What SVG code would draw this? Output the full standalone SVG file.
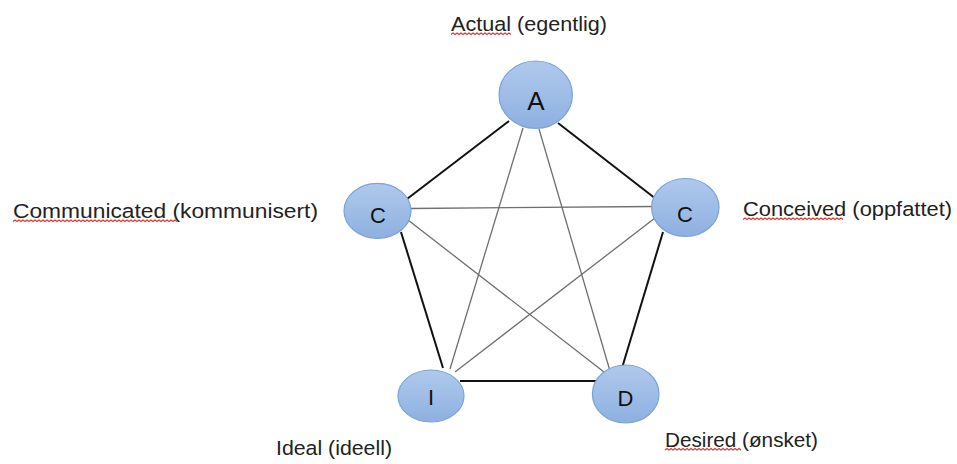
<svg xmlns="http://www.w3.org/2000/svg" width="957" height="464" viewBox="0 0 957 464">
<defs>
<linearGradient id="nodeFill" x1="0" y1="0" x2="0" y2="1">
<stop offset="0" stop-color="#afc9ec"/>
<stop offset="1" stop-color="#8eb0e0"/>
</linearGradient>
<style>
.node ellipse{fill:url(#nodeFill);stroke:#7ba3d8;stroke-width:1.2}
.node text{font-family:"Liberation Sans",Arial,sans-serif;font-size:22px;fill:#111;text-anchor:middle}
.edge-main{stroke:#111;stroke-width:2;fill:none}
.edge-diag{stroke:#6f6f6f;stroke-width:1.3;fill:none}
.label{font-family:"Liberation Sans",Arial,sans-serif;font-size:20.5px;fill:#222}
.squiggle{fill:none;stroke:#e23a3a;stroke-width:1.2}
</style>
</defs>
<rect width="957" height="464" fill="#ffffff"/>
<g id="connectors">
<line class="edge-main" x1="509" y1="121" x2="407" y2="199"/>
<line class="edge-main" x1="558" y1="123" x2="656" y2="199"/>
<line class="edge-main" x1="401" y1="232" x2="443" y2="368"/>
<line class="edge-main" x1="663" y1="232" x2="622" y2="368"/>
<line class="edge-main" x1="460" y1="381" x2="596" y2="381"/>
<line class="edge-diag" x1="410" y1="208.5" x2="654" y2="206.5"/>
<line class="edge-diag" x1="523" y1="128" x2="450" y2="369"/>
<line class="edge-diag" x1="539" y1="129" x2="610" y2="371"/>
<line class="edge-diag" x1="408" y1="220" x2="604" y2="372"/>
<line class="edge-diag" x1="655" y1="218" x2="455" y2="372"/>
</g>
<g id="node-A" class="node">
<ellipse cx="535.7" cy="94.7" rx="36.7" ry="33.7"/>
<text x="536" y="109.5" style="font-size:26px">A</text>
</g>
<g id="node-C-communicated" class="node">
<ellipse cx="377.5" cy="210.8" rx="33.5" ry="27.5"/>
<text x="378" y="223">C</text>
</g>
<g id="node-C-conceived" class="node">
<ellipse cx="685.3" cy="207.5" rx="33.7" ry="29"/>
<text x="685" y="222">C</text>
</g>
<g id="node-I" class="node">
<ellipse cx="431" cy="396" rx="33" ry="26"/>
<text x="431" y="405">I</text>
</g>
<g id="node-D" class="node">
<ellipse cx="625.7" cy="394" rx="33.3" ry="29"/>
<text x="625.5" y="406">D</text>
</g>
<g id="labels">
<text class="label" x="451" y="31" textLength="156" lengthAdjust="spacingAndGlyphs">Actual (egentlig)</text>
<text class="label" x="13" y="218" textLength="305" lengthAdjust="spacingAndGlyphs">Communicated (kommunisert)</text>
<text class="label" x="743" y="216" textLength="209" lengthAdjust="spacingAndGlyphs">Conceived (oppfattet)</text>
<text class="label" x="276" y="455" textLength="116" lengthAdjust="spacingAndGlyphs">Ideal (ideell)</text>
<text class="label" x="665" y="446.5" textLength="153" lengthAdjust="spacingAndGlyphs">Desired (ønsket)</text>
<path class="squiggle" d="M451 34.5 l2 -1.5 l2 1.5 l2 -1.5 l2 1.5 l2 -1.5 l2 1.5 l2 -1.5 l2 1.5 l2 -1.5 l2 1.5 l2 -1.5 l2 1.5 l2 -1.5 l2 1.5 l2 -1.5 l2 1.5 l2 -1.5 l2 1.5 l2 -1.5 l2 1.5 l2 -1.5 l2 1.5 l2 -1.5 l2 1.5 l2 -1.5 l2 1.5 l2 -1.5 l2 1.5 l2 -1.5 l2 1.5"/>
<path class="squiggle" d="M13 221.5 l2 -1.5 l2 1.5 l2 -1.5 l2 1.5 l2 -1.5 l2 1.5 l2 -1.5 l2 1.5 l2 -1.5 l2 1.5 l2 -1.5 l2 1.5 l2 -1.5 l2 1.5 l2 -1.5 l2 1.5 l2 -1.5 l2 1.5 l2 -1.5 l2 1.5 l2 -1.5 l2 1.5 l2 -1.5 l2 1.5 l2 -1.5 l2 1.5 l2 -1.5 l2 1.5 l2 -1.5 l2 1.5 l2 -1.5 l2 1.5 l2 -1.5 l2 1.5 l2 -1.5 l2 1.5 l2 -1.5 l2 1.5 l2 -1.5 l2 1.5 l2 -1.5 l2 1.5 l2 -1.5 l2 1.5 l2 -1.5 l2 1.5 l2 -1.5 l2 1.5 l2 -1.5 l2 1.5 l2 -1.5 l2 1.5 l2 -1.5 l2 1.5 l2 -1.5 l2 1.5 l2 -1.5 l2 1.5 l2 -1.5 l2 1.5 l2 -1.5 l2 1.5 l2 -1.5 l2 1.5 l2 -1.5 l2 1.5 l2 -1.5 l2 1.5 l2 -1.5 l2 1.5 l2 -1.5 l2 1.5 l2 -1.5 l2 1.5 l2 -1.5 l2 1.5 l2 -1.5 l2 1.5 l2 -1.5 l2 1.5 l2 -1.5 l2 1.5"/>
<path class="squiggle" d="M743 219.5 l2 -1.5 l2 1.5 l2 -1.5 l2 1.5 l2 -1.5 l2 1.5 l2 -1.5 l2 1.5 l2 -1.5 l2 1.5 l2 -1.5 l2 1.5 l2 -1.5 l2 1.5 l2 -1.5 l2 1.5 l2 -1.5 l2 1.5 l2 -1.5 l2 1.5 l2 -1.5 l2 1.5 l2 -1.5 l2 1.5 l2 -1.5 l2 1.5 l2 -1.5 l2 1.5 l2 -1.5 l2 1.5 l2 -1.5 l2 1.5 l2 -1.5 l2 1.5 l2 -1.5 l2 1.5 l2 -1.5 l2 1.5 l2 -1.5 l2 1.5 l2 -1.5 l2 1.5 l2 -1.5 l2 1.5 l2 -1.5 l2 1.5 l2 -1.5 l2 1.5 l2 -1.5 l2 1.5"/>
<path class="squiggle" d="M665 450 l2 -1.5 l2 1.5 l2 -1.5 l2 1.5 l2 -1.5 l2 1.5 l2 -1.5 l2 1.5 l2 -1.5 l2 1.5 l2 -1.5 l2 1.5 l2 -1.5 l2 1.5 l2 -1.5 l2 1.5 l2 -1.5 l2 1.5 l2 -1.5 l2 1.5 l2 -1.5 l2 1.5 l2 -1.5 l2 1.5 l2 -1.5 l2 1.5 l2 -1.5 l2 1.5 l2 -1.5 l2 1.5 l2 -1.5 l2 1.5 l2 -1.5 l2 1.5 l2 -1.5 l2 1.5 l2 -1.5 l2 1.5"/>
</g>
</svg>
